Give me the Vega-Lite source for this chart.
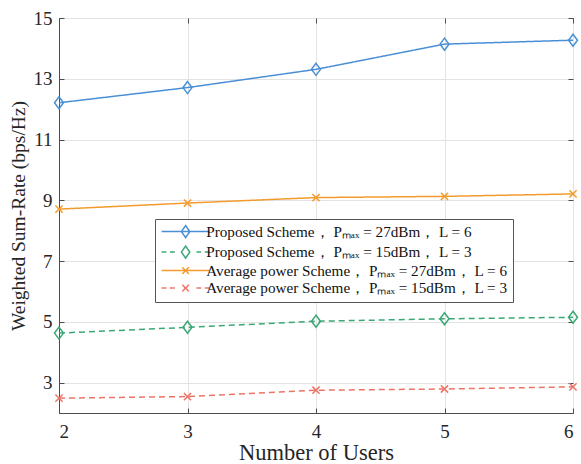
{
  "$schema": "https://vega.github.io/schema/vega-lite/v6.json",
  "width": 514,
  "height": 395,
  "autosize": {"type": "none"},
  "padding": {"left": 59, "top": 18, "right": 8, "bottom": 51},
  "background": "white",
  "config": {
    "font": "Liberation Serif",
    "view": {"stroke": "#4d4d4d", "strokeWidth": 1},
    "axis": {
      "labelFont": "Liberation Serif",
      "titleFont": "Liberation Serif",
      "labelFontSize": 19,
      "titleFontSize": 20,
      "titleFontWeight": "normal",
      "labelColor": "#262626",
      "titleColor": "#262626",
      "domainColor": "#4d4d4d",
      "tickColor": "#4d4d4d",
      "gridColor": "#e3e3e3",
      "tickSize": -5
    }
  },
  "data": {
    "values": [
      {"series": "p27", "users": 2, "rate": 12.21},
      {"series": "p27", "users": 3, "rate": 12.71},
      {"series": "p27", "users": 4, "rate": 13.31},
      {"series": "p27", "users": 5, "rate": 14.14},
      {"series": "p27", "users": 6, "rate": 14.27},
      {"series": "p15", "users": 2, "rate": 4.63},
      {"series": "p15", "users": 3, "rate": 4.82},
      {"series": "p15", "users": 4, "rate": 5.02},
      {"series": "p15", "users": 5, "rate": 5.10},
      {"series": "p15", "users": 6, "rate": 5.15},
      {"series": "a27", "users": 2, "rate": 8.71},
      {"series": "a27", "users": 3, "rate": 8.91},
      {"series": "a27", "users": 4, "rate": 9.09},
      {"series": "a27", "users": 5, "rate": 9.13},
      {"series": "a27", "users": 6, "rate": 9.21},
      {"series": "a15", "users": 2, "rate": 2.49},
      {"series": "a15", "users": 3, "rate": 2.54},
      {"series": "a15", "users": 4, "rate": 2.75},
      {"series": "a15", "users": 5, "rate": 2.79},
      {"series": "a15", "users": 6, "rate": 2.86}
    ]
  },
  "resolve": {"axis": {"x": "independent", "y": "independent"}},
  "layer": [
    {
      "mark": {"type": "line", "strokeWidth": 1.5},
      "encoding": {
        "x": {
          "field": "users", "type": "quantitative",
          "scale": {"domain": [2, 6], "nice": false, "zero": false},
          "axis": {"values": [2, 3, 4, 5, 6], "title": "Number of Users", "titleFontSize": 22.5, "grid": true, "labelPadding": 14, "titlePadding": 0, "format": "d"}
        },
        "y": {
          "field": "rate", "type": "quantitative",
          "scale": {"domain": [2, 15], "nice": false, "zero": false},
          "axis": {"values": [3, 5, 7, 9, 11, 13, 15], "title": "Weighted Sum-Rate (bps/Hz)", "titleFontSize": 19.5, "grid": true, "labelPadding": 12, "titlePadding": 5, "format": "d"}
        },
        "color": {
          "field": "series", "type": "nominal",
          "scale": {"domain": ["p27", "p15", "a27", "a15"], "range": ["#4a8fd6", "#3aa876", "#f39b2d", "#ee7366"]},
          "legend": {
            "title": null,
            "orient": "none",
            "legendX": 96,
            "legendY": 201,
            "fillColor": "white",
            "strokeColor": "#555555",
            "padding": 5,
            "labelFont": "Liberation Serif",
            "labelFontSize": 15.2,
            "labelColor": "#111111",
            "labelLimit": 0,
            "labelOffset": 31,
            "symbolSize": 144,
            "symbolStrokeWidth": 1.5,
            "rowPadding": 1.5,
            "labelExpr": "datum.value === 'p27' ? 'Proposed Scheme， Pₘₐₓ = 27dBm， L = 6' : datum.value === 'p15' ? 'Proposed Scheme， Pₘₐₓ = 15dBm， L = 3' : datum.value === 'a27' ? 'Average power Scheme， Pₘₐₓ = 27dBm， L = 6' : 'Average power Scheme， Pₘₐₓ = 15dBm， L = 3'",
            "encode": {
              "symbols": {
                "update": {
                  "shape": {"signal": "datum.value === 'p27' ? 'M-1,0L7,0M3,-1L3.7,0L3,1L2.3,0Z' : datum.value === 'p15' ? 'M-1,0L-0.2,0M0.4,0L1.2,0M3,-1L3.7,0L3,1L2.3,0ZM4.8,0L5.6,0M6.2,0L7,0' : datum.value === 'a27' ? 'M-1,0L7,0M2.45,-0.55L3.55,0.55M2.45,0.55L3.55,-0.55' : 'M-1,0L-0.2,0M0.4,0L1.2,0M2.45,-0.55L3.55,0.55M2.45,0.55L3.55,-0.55M4.8,0L5.6,0M6.2,0L7,0'"},
                  "strokeDash": {"value": [1, 0]},
                  "fill": {"value": "transparent"},
                  "strokeWidth": {"value": 1.5}
                }
              }
            }
          }
        },
        "strokeDash": {
          "field": "series", "type": "nominal",
          "scale": {"range": [[6, 4], [1, 0], [6, 4], [1, 0]]},
          "legend": null
        }
      }
    },
    {
      "mark": {"type": "point", "filled": false, "strokeWidth": 1.5, "opacity": 1, "size": 144},
      "encoding": {
        "x": {
          "field": "users", "type": "quantitative",
          "scale": {"domain": [2, 6], "nice": false, "zero": false},
          "axis": {"orient": "top", "values": [2, 3, 4, 5, 6], "labels": false, "title": null, "grid": false, "domain": false}
        },
        "y": {
          "field": "rate", "type": "quantitative",
          "scale": {"domain": [2, 15], "nice": false, "zero": false},
          "axis": {"orient": "right", "values": [3, 5, 7, 9, 11, 13, 15], "labels": false, "title": null, "grid": false, "domain": false}
        },
        "color": {"field": "series", "type": "nominal", "legend": null},
        "shape": {
          "field": "series", "type": "nominal",
          "scale": {"range": ["M-0.6,-0.6L0.6,0.6M-0.6,0.6L0.6,-0.6", "M-0.6,-0.6L0.6,0.6M-0.6,0.6L0.6,-0.6", "M0,-1L0.75,0L0,1L-0.75,0Z", "M0,-1L0.75,0L0,1L-0.75,0Z"]},
          "legend": null
        }
      }
    }
  ]
}
